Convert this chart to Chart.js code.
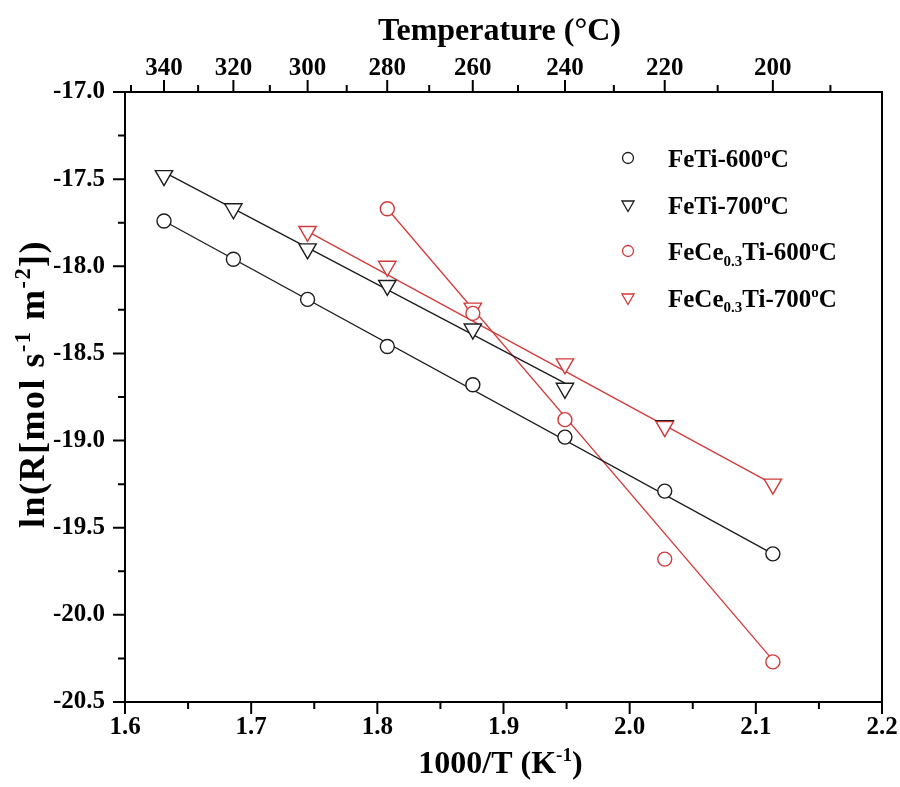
<!DOCTYPE html>
<html>
<head>
<meta charset="utf-8">
<script src="https://cdn.jsdelivr.net/npm/chart.js@4.4.0/dist/chart.umd.min.js"></script>
<style>
  html, body { margin: 0; padding: 0; background: #fff; }
  #wrap { width: 900px; height: 787px; }
</style>
</head>
<body>
<div id="wrap"><canvas id="arrhenius" width="900" height="787"></canvas></div>
<script>
// 1000/T values (K^-1) for 340 ... 200 °C
const invT = [1.6309, 1.6859, 1.7447, 1.8079, 1.8757, 1.9487, 2.0278, 2.1135];

// ln(R)
const feTi600 = [-17.74, -17.96, -18.19, -18.46, -18.68, -18.98, -19.29, -19.65];
const feTi700 = [-17.48, -17.67, -17.90, -18.11, -18.36, -18.70, -18.915, null];
const feCe600 = [null, null, null, -17.67, -18.27, -18.88, -19.68, -20.27];
const feCe700 = [null, null, -17.80, -18.00, -18.24, -18.56, -18.92, -19.25];

// linear fit lines (end points)
const fitFeTi600X = [1.6309, 2.1135];
const fitFeTi600Y = [-17.74, -19.65];
const fitFeTi700X = [1.6309, 1.9487];
const fitFeTi700Y = [-17.46, -18.67];
const fitFeCe600X = [1.8079, 2.1135];
const fitFeCe600Y = [-17.67, -20.26];
const fitFeCe700X = [1.7447, 2.1135];
const fitFeCe700Y = [-17.80, -19.25];

// axis ticks
const xTicks = [1.6, 1.7, 1.8, 1.9, 2.0, 2.1, 2.2];
const xMinor = [1.65, 1.75, 1.85, 1.95, 2.05, 2.15];
const yTicks = [-17.0, -17.5, -18.0, -18.5, -19.0, -19.5, -20.0, -20.5];
const yMinor = [-17.25, -17.75, -18.25, -18.75, -19.25, -19.75, -20.25];
const tempTicks = [340, 320, 300, 280, 260, 240, 220, 200];
const tempMinor = [350, 330, 310, 290, 270, 250, 230, 210, 190];

const BLACK = '#1c1c1c';
const RED = '#d23a3a';
const FONT = '"Liberation Serif", "Times New Roman", serif';

function toPoints(xs, ys) {
    return xs.map((x, i) => ({ x: x, y: ys[i] })).filter(p => p.y !== null);
}

function fitLine(xs, ys, color) {
    return {
        data: toPoints(xs, ys),
        showLine: true,
        borderColor: color,
        borderWidth: 1.3,
        pointRadius: 0,
        fill: false,
        order: 5
    };
}

function markers(ys, style, color, order) {
    return {
        data: toPoints(invT, ys),
        showLine: false,
        pointStyle: style,
        pointRotation: style === 'triangle' ? 180 : 0,
        pointRadius: style === 'triangle' ? 10 : 7,
        pointBorderWidth: 1.4,
        pointBorderColor: color,
        pointBackgroundColor: '#fff',
        order: order
    };
}

// draws rich text with sub/superscripts; parts = [[text, kind], ...]
function drawRich(ctx, parts, x, y, size, align, ratio) {
    const small = size * (ratio || 0.6);
    let total = 0;
    parts.forEach(p => {
        ctx.font = 'bold ' + (p[1] === 'n' ? size : small) + 'px ' + FONT;
        total += ctx.measureText(p[0]).width;
    });
    let cx = align === 'center' ? x - total / 2 : x;
    ctx.textAlign = 'left';
    ctx.textBaseline = 'alphabetic';
    parts.forEach(p => {
        let dy = 0;
        if (p[1] === 'n') {
            ctx.font = 'bold ' + size + 'px ' + FONT;
        } else {
            ctx.font = 'bold ' + small + 'px ' + FONT;
            dy = p[1] === 'sup' ? -size * 0.38 : size * 0.22;
        }
        ctx.fillText(p[0], cx, y + dy);
        cx += ctx.measureText(p[0]).width;
    });
}

const legendItems = [
    { style: 'circle', color: BLACK, parts: [['FeTi-600', 'n'], ['o', 'sup'], ['C', 'n']] },
    { style: 'triangle', color: BLACK, parts: [['FeTi-700', 'n'], ['o', 'sup'], ['C', 'n']] },
    { style: 'circle', color: RED, parts: [['FeCe', 'n'], ['0.3', 'sub'], ['Ti-600', 'n'], ['o', 'sup'], ['C', 'n']] },
    { style: 'triangle', color: RED, parts: [['FeCe', 'n'], ['0.3', 'sub'], ['Ti-700', 'n'], ['o', 'sup'], ['C', 'n']] }
];

const framePlugin = {
    id: 'frameTicks',
    afterDraw(chart) {
        const ctx = chart.ctx;
        const a = chart.chartArea;
        const sx = chart.scales.x, sy = chart.scales.y, st = chart.scales.x2;
        ctx.save();
        ctx.strokeStyle = '#000';
        ctx.lineWidth = 2;
        ctx.strokeRect(a.left, a.top, a.right - a.left, a.bottom - a.top);

        ctx.beginPath();
        xTicks.forEach(v => { const p = sx.getPixelForValue(v); ctx.moveTo(p, a.bottom); ctx.lineTo(p, a.bottom + 12); });
        xMinor.forEach(v => { const p = sx.getPixelForValue(v); ctx.moveTo(p, a.bottom); ctx.lineTo(p, a.bottom + 7); });
        yTicks.forEach(v => { const p = sy.getPixelForValue(v); ctx.moveTo(a.left, p); ctx.lineTo(a.left - 12, p); });
        yMinor.forEach(v => { const p = sy.getPixelForValue(v); ctx.moveTo(a.left, p); ctx.lineTo(a.left - 7, p); });
        tempTicks.forEach(t => { const p = st.getPixelForValue(1000 / (t + 273.15)); ctx.moveTo(p, a.top); ctx.lineTo(p, a.top - 12); });
        tempMinor.forEach(t => { const p = st.getPixelForValue(1000 / (t + 273.15)); ctx.moveTo(p, a.top); ctx.lineTo(p, a.top - 7); });
        ctx.stroke();

        // axis titles
        ctx.fillStyle = '#000';
        const midX = (a.left + a.right) / 2;
        drawRich(ctx, [['Temperature (°C)', 'n']], midX - 4, 40, 32, 'center');
        drawRich(ctx, [['1000/T (K', 'n'], ['-1', 'sup'], [')', 'n']], midX - 3, 773, 32, 'center');
        ctx.save();
        ctx.translate(44, 384);
        ctx.rotate(-Math.PI / 2);
        ctx.letterSpacing = '1.5px';
        drawRich(ctx, [['ln(R[mol s', 'n'], ['-1', 'sup'], [' m', 'n'], ['-2', 'sup'], ['])', 'n']], 0, 0, 36, 'center', 0.62);
        ctx.letterSpacing = '0px';
        ctx.restore();

        // legend
        legendItems.forEach((item, i) => {
            const cy = 158 + i * 46.5;
            ctx.strokeStyle = item.color;
            ctx.lineWidth = 1.3;
            ctx.fillStyle = '#fff';
            Chart.helpers.drawPoint(ctx, {
                pointStyle: item.style,
                rotation: item.style === 'triangle' ? 180 : 0,
                radius: item.style === 'triangle' ? 7 : 5.5,
                borderWidth: 1.3
            }, 628, cy);
            ctx.fillStyle = '#000';
            drawRich(ctx, item.parts, 668, cy + 9, 25, 'left');
        });
        ctx.restore();
    }
};

const tickFont = { family: FONT, size: 25, weight: 'bold' };

new Chart(document.getElementById('arrhenius'), {
    type: 'scatter',
    data: {
        datasets: [
            fitLine(fitFeTi600X, fitFeTi600Y, BLACK),
            fitLine(fitFeTi700X, fitFeTi700Y, BLACK),
            fitLine(fitFeCe600X, fitFeCe600Y, RED),
            fitLine(fitFeCe700X, fitFeCe700Y, RED),
            markers(feTi600, 'circle', BLACK, 3),
            markers(feTi700, 'triangle', BLACK, 3),
            markers(feCe600, 'circle', RED, 1),
            markers(feCe700, 'triangle', RED, 1)
        ]
    },
    options: {
        responsive: false,
        animation: false,
        devicePixelRatio: 1,
        layout: { padding: { left: 0, right: 18, top: 0, bottom: 0 } },
        plugins: { legend: { display: false }, tooltip: { enabled: false } },
        scales: {
            x: {
                type: 'linear',
                position: 'bottom',
                min: 1.6,
                max: 2.2,
                afterBuildTicks: s => { s.ticks = xTicks.map(v => ({ value: v })); },
                ticks: { callback: v => v.toFixed(1), font: tickFont, color: '#000', padding: 11, autoSkip: false, maxRotation: 0 },
                grid: { display: false, drawTicks: false },
                border: { display: false },
                afterFit: s => { s.height = 85; s.paddingLeft = 0; s.paddingRight = 0; }
            },
            x2: {
                type: 'linear',
                position: 'top',
                min: 1.6,
                max: 2.2,
                afterBuildTicks: s => { s.ticks = tempTicks.map(t => ({ value: 1000 / (t + 273.15) })); },
                ticks: { callback: v => String(Math.round(1000 / v - 273.15)), font: tickFont, color: '#000', padding: 8, autoSkip: false, maxRotation: 0 },
                grid: { display: false, drawTicks: false },
                border: { display: false },
                afterFit: s => { s.height = 92; s.paddingLeft = 0; s.paddingRight = 0; }
            },
            y: {
                type: 'linear',
                position: 'left',
                min: -20.5,
                max: -17.0,
                afterBuildTicks: s => { s.ticks = yTicks.map(v => ({ value: v })); },
                ticks: { callback: v => v.toFixed(1), font: tickFont, color: '#000', padding: 20, autoSkip: false },
                grid: { display: false, drawTicks: false },
                border: { display: false },
                afterFit: s => { s.width = 125; s.paddingTop = 0; s.paddingBottom = 0; }
            }
        }
    },
    plugins: [framePlugin]
});
</script>
</body>
</html>
